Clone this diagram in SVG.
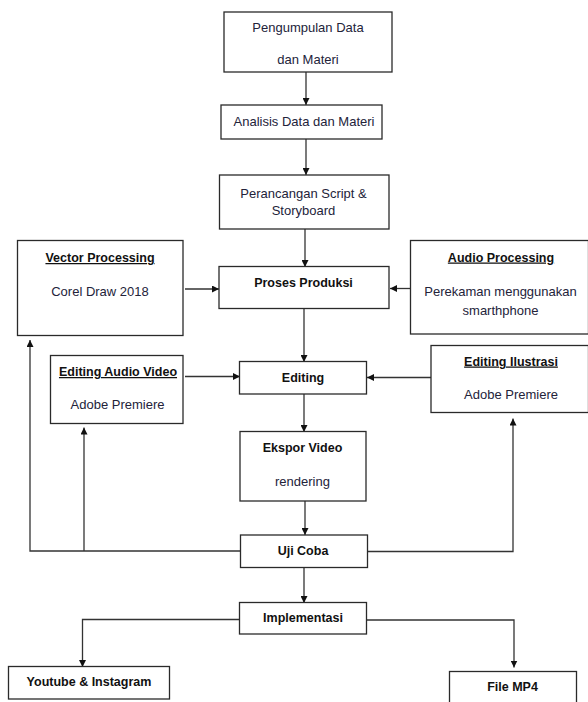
<svg xmlns="http://www.w3.org/2000/svg" width="588" height="702" viewBox="0 0 588 702">
<defs>
<style>
.box{fill:#fff;stroke:#2a2a2a;stroke-width:1.3}
.t{font-family:"Liberation Sans",Arial,sans-serif;font-size:13px;fill:#23233a;text-anchor:middle}
.b{font-family:"Liberation Sans",Arial,sans-serif;font-size:12.5px;font-weight:bold;fill:#111;text-anchor:middle}
.u{text-decoration:underline}
.c{fill:none;stroke:#333;stroke-width:1.3}
</style>
<marker id="ah" viewBox="0 0 10 10" refX="10" refY="5" markerWidth="7" markerHeight="7" markerUnits="userSpaceOnUse" orient="auto">
<path d="M0,0 L10,5 L0,10 z" fill="#111"/>
</marker>
</defs>
<rect width="588" height="702" fill="#fff"/>
<g id="connectors">
<line class="c" x1="306" y1="72" x2="306" y2="105" marker-end="url(#ah)"/>
<line class="c" x1="306" y1="139" x2="306" y2="175" marker-end="url(#ah)"/>
<line class="c" x1="305" y1="229" x2="305" y2="267" marker-end="url(#ah)"/>
<line class="c" x1="185" y1="289" x2="219" y2="289" marker-end="url(#ah)"/>
<line class="c" x1="410" y1="288.5" x2="390" y2="288.5" marker-end="url(#ah)"/>
<line class="c" x1="304" y1="308" x2="304" y2="362" marker-end="url(#ah)"/>
<line class="c" x1="185" y1="376.5" x2="240" y2="376.5" marker-end="url(#ah)"/>
<line class="c" x1="431" y1="377.5" x2="367" y2="377.5" marker-end="url(#ah)"/>
<line class="c" x1="304" y1="394" x2="304" y2="432" marker-end="url(#ah)"/>
<line class="c" x1="305" y1="501" x2="305" y2="535" marker-end="url(#ah)"/>
<polyline class="c" points="241,551 30,551 30,340" marker-end="url(#ah)"/>
<line class="c" x1="84" y1="551" x2="84" y2="427.5" marker-end="url(#ah)"/>
<polyline class="c" points="367,551.5 513,551.5 513,418.5" marker-end="url(#ah)"/>
<line class="c" x1="304" y1="568" x2="304" y2="603" marker-end="url(#ah)"/>
<polyline class="c" points="240,619.5 82.5,619.5 82.5,667" marker-end="url(#ah)"/>
<polyline class="c" points="366,620 514,620 514,667.5" marker-end="url(#ah)"/>
</g>
<g id="pengumpulan">
<rect class="box" x="224" y="12" width="168" height="60"/>
<text class="t" x="308" y="31.5">Pengumpulan Data</text>
<text class="t" x="308" y="63.5">dan Materi</text>
</g>
<g id="analisis">
<rect class="box" x="221" y="105" width="161" height="34"/>
<text class="t" x="304" y="126">Analisis Data dan Materi</text>
</g>
<g id="perancangan">
<rect class="box" x="219.5" y="175" width="169.5" height="54"/>
<text class="t" x="303.5" y="197.5">Perancangan Script &amp;</text>
<text class="t" x="303.5" y="214.5">Storyboard</text>
</g>
<g id="vector">
<rect class="box" x="17.5" y="240.5" width="165.5" height="95"/>
<text class="b u" x="100" y="262">Vector Processing</text>
<text class="t" x="100" y="295.5">Corel Draw 2018</text>
</g>
<g id="proses">
<rect class="box" x="219" y="266.5" width="170" height="42"/>
<text class="b" x="303.5" y="286.5">Proses Produksi</text>
</g>
<g id="audio">
<rect class="box" x="410.5" y="240.5" width="178" height="93.5"/>
<text class="b u" x="501" y="261.5">Audio Processing</text>
<text class="t" x="500.5" y="296">Perekaman menggunakan</text>
<text class="t" x="500.5" y="314.5">smarthphone</text>
</g>
<g id="editing-audio-video">
<rect class="box" x="50.5" y="355.5" width="132.5" height="68"/>
<text class="b u" x="118" y="376">Editing Audio Video</text>
<text class="t" x="117.5" y="409">Adobe Premiere</text>
</g>
<g id="editing">
<rect class="box" x="239.5" y="361.5" width="127" height="32.5"/>
<text class="b" x="303" y="381.5">Editing</text>
</g>
<g id="editing-ilustrasi">
<rect class="box" x="431" y="345.5" width="157.5" height="67"/>
<text class="b u" x="511" y="365.5">Editing Ilustrasi</text>
<text class="t" x="511" y="398.5">Adobe Premiere</text>
</g>
<g id="ekspor">
<rect class="box" x="240" y="431.5" width="126" height="69.5"/>
<text class="b" x="302.5" y="452">Ekspor Video</text>
<text class="t" x="302.5" y="486">rendering</text>
</g>
<g id="ujicoba">
<rect class="box" x="240.5" y="535" width="127" height="32.5"/>
<text class="b" x="303" y="555">Uji Coba</text>
</g>
<g id="implementasi">
<rect class="box" x="239.5" y="602.5" width="127" height="31.5"/>
<text class="b" x="303" y="621.5">Implementasi</text>
</g>
<g id="youtube">
<rect class="box" x="8.5" y="666.5" width="161" height="32.5"/>
<text class="b" x="89" y="686">Youtube &amp; Instagram</text>
</g>
<g id="filemp4">
<rect class="box" x="449.5" y="671.5" width="127" height="40"/>
<text class="b" x="512.5" y="691">File MP4</text>
</g>
</svg>
